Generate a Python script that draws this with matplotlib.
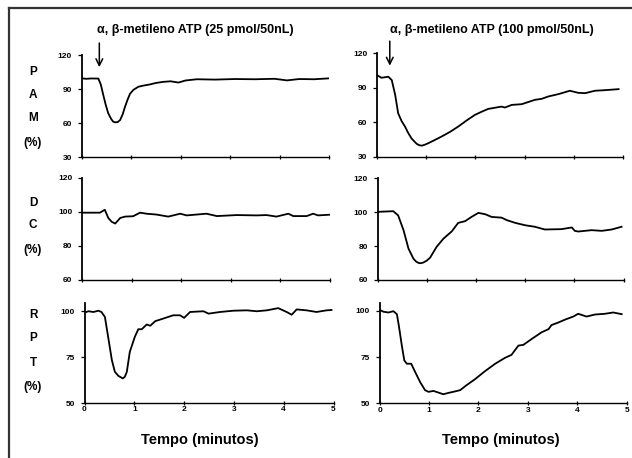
import matplotlib.pyplot as plt
from matplotlib.lines import Line2D

plt.rcParams['font.family'] = ['Liberation Sans', 'DejaVu Sans']
plt.rcParams['font.weight'] = 'bold'

# PAM (%) - 25 pmol
t_pam25 = [0, 0.1, 0.2, 0.34, 0.39, 0.44, 0.49, 0.54, 0.60, 0.64, 0.68, 0.73, 0.78,
           0.83, 0.88, 0.93, 0.98, 1.05, 1.15, 1.25, 1.38, 1.5, 1.65, 1.8, 1.96, 2.1,
           2.33, 2.7, 3.1, 3.5, 3.9, 4.15, 4.4, 4.7, 5.0]
pam25 = [99.4, 99.0, 99.3, 99.2, 94.0, 84.7, 76.0, 68.6, 63.5, 61.2, 60.6, 60.8, 62.6,
         67.5, 74.4, 80.5, 85.8, 89.3, 92.0, 93.0, 94.0, 95.3, 96.3, 96.8, 95.7, 97.5,
         98.6, 98.3, 98.8, 98.6, 99.0, 97.6, 98.8, 98.6, 99.4]

# PAM (%) - 100 pmol
t_pam100 = [0, 0.09, 0.23, 0.3, 0.37, 0.43, 0.50, 0.57, 0.63, 0.70, 0.76, 0.81, 0.86,
            0.91, 0.97, 1.04, 1.15, 1.31, 1.48, 1.65, 1.82, 1.99, 2.13, 2.26, 2.53,
            2.60, 2.74, 2.94, 3.21, 3.35, 3.48, 3.69, 3.92, 4.09, 4.23, 4.43, 4.63,
            4.91]
pam100 = [101.0, 98.7, 99.6, 96.7, 83.7, 67.8, 61.0, 56.2, 51.0, 46.0, 43.2, 41.1, 40.0,
          39.6, 40.4, 41.7, 44.0, 47.5, 51.5, 56.2, 61.5, 66.4, 69.2, 71.6, 73.6,
          72.8, 75.1, 75.7, 79.5, 80.4, 82.4, 84.5, 87.4, 85.6, 85.3, 87.4, 87.9,
          88.8]

# DC (%) - 25 pmol
t_dc25 = [0, 0.36, 0.46, 0.53, 0.60, 0.67, 0.77, 0.87, 1.03, 1.17, 1.30, 1.5, 1.74,
          1.98, 2.11, 2.51, 2.72, 3.12, 3.52, 3.72, 3.92, 4.16, 4.26, 4.53, 4.66, 4.76,
          4.99]
dc25 = [99.6, 99.6, 101.3, 96.5, 94.2, 93.2, 96.5, 97.3, 97.5, 99.6, 99.0, 98.5, 97.3,
        99.0, 98.0, 99.0, 97.6, 98.2, 98.0, 98.2, 97.3, 99.0, 97.6, 97.6, 99.0, 98.0,
        98.4]

# DC (%) - 100 pmol
t_dc100 = [0, 0.32, 0.42, 0.53, 0.63, 0.73, 0.78, 0.83, 0.88, 0.93, 1.0, 1.07, 1.20,
           1.34, 1.51, 1.64, 1.78, 1.91, 2.05, 2.19, 2.32, 2.52, 2.63, 2.80, 3.0,
           3.20, 3.40, 3.74, 3.95, 4.01, 4.08, 4.35, 4.56, 4.76, 4.96]
dc100 = [100.2, 100.6, 98.1, 89.3, 78.5, 72.6, 71.0, 70.1, 69.9, 70.3, 71.4, 73.2, 79.5,
         84.4, 88.7, 93.7, 94.7, 97.2, 99.6, 98.8, 97.2, 96.8, 95.3, 93.7, 92.3,
         91.4, 89.8, 90.0, 91.0, 89.0, 88.6, 89.4, 89.0, 89.8, 91.4]

# RPT (%) - 25 pmol
t_rpt25 = [0, 0.08, 0.18, 0.28, 0.34, 0.41, 0.48, 0.55, 0.61, 0.68, 0.73, 0.77, 0.81,
           0.85, 0.91, 1.01, 1.08, 1.15, 1.25, 1.32, 1.42, 1.58, 1.78, 1.92, 2.0,
           2.12, 2.39, 2.49, 2.72, 2.99, 3.26, 3.46, 3.66, 3.89, 4.06, 4.16, 4.26,
           4.46, 4.66, 4.86, 4.96]
rpt25 = [99.3, 100.0, 99.6, 100.3, 99.6, 96.9, 85.1, 73.3, 67.0, 64.8, 64.0, 63.4, 64.3,
         67.0, 77.9, 86.0, 90.2, 90.2, 92.8, 92.1, 94.6, 96.0, 97.8, 97.8, 96.4,
         99.6, 100.0, 98.7, 99.6, 100.3, 100.5, 100.0, 100.5, 101.7, 99.6, 98.1, 101.0,
         100.5, 99.6, 100.5, 100.7]

# RPT (%) - 100 pmol
t_rpt100 = [0, 0.08, 0.18, 0.28, 0.35, 0.39, 0.45, 0.50, 0.55, 0.64, 0.72, 0.82, 0.92,
            0.99, 1.09, 1.19, 1.29, 1.39, 1.49, 1.63, 1.76, 1.93, 2.13, 2.34, 2.54,
            2.67, 2.81, 2.91, 3.08, 3.28, 3.42, 3.48, 3.62, 3.75, 3.92, 4.02, 4.19,
            4.36, 4.56, 4.73, 4.90]
rpt100 = [100.5, 99.5, 99.1, 99.8, 98.2, 91.9, 81.2, 73.2, 71.4, 71.4, 66.9, 61.5, 57.1,
          56.2, 56.7, 55.8, 54.9, 55.6, 56.2, 57.1, 59.8, 63.0, 67.3, 71.4, 74.6,
          76.2, 81.2, 81.6, 84.8, 88.4, 90.1, 92.3, 93.7, 95.2, 96.9, 98.4, 96.9,
          98.0, 98.4, 99.1, 98.2]

titles = ['α, β-metileno ATP (25 pmol/50nL)', 'α, β-metileno ATP (100 pmol/50nL)']
row_labels = [['P', 'A', 'M', '(%)'], ['D', 'C', '(%)'], ['R', 'P', 'T', '(%)']]
x_ticks = [0, 1, 2, 3, 4, 5]
y_ticks = [[30, 60, 90, 120], [60, 80, 100, 120], [50, 75, 100]]
y_lims = [(30, 120), (60, 120), (50, 104.5)]
dose_time = [0.36, 0.26]

W, H = 632, 458
fig = plt.figure(figsize=(W / 100, H / 100), dpi=100)


def rect(x0, x1, y0, y1):
    return [x0 / W, 1 - y1 / H, (x1 - x0) / W, (y1 - y0) / H]


# panel boxes in pixels (left, right, top, bottom)
boxes = [[(81.5, 329, 55, 157), (377, 623, 53.3, 156.7)],
         [(82, 330, 178, 280), (377.5, 623.5, 178.3, 280)],
         [(84.5, 333.5, 303, 403), (379.6, 626.6, 302.5, 403.3)]]

data = [[(t_pam25, pam25), (t_pam100, pam100)],
        [(t_dc25, dc25), (t_dc100, dc100)],
        [(t_rpt25, rpt25), (t_rpt100, rpt100)]]

for r in range(3):
    for c in range(2):
        ax = fig.add_axes(rect(*boxes[r][c]))
        t, v = data[r][c]
        ax.plot(t, v, color='black', lw=1.3, solid_joinstyle='round')
        ax.set_xlim(0, 5)
        ax.set_ylim(*y_lims[r])
        ax.set_xticks(x_ticks)
        ax.set_yticks(y_ticks[r])
        ax.spines['top'].set_visible(False)
        ax.spines['right'].set_visible(False)
        ax.spines['left'].set_linewidth(1.3)
        ax.spines['bottom'].set_linewidth(1.0)
        ax.tick_params(axis='y', direction='out', length=3, width=0.9, pad=4,
                       labelsize=6)
        ax.tick_params(axis='x', direction='inout', length=3, width=0.9, pad=1,
                       labelsize=6)
        if r < 2:
            ax.set_xticklabels([])
        for lab in ax.get_xticklabels() + ax.get_yticklabels():
            lab.set_fontweight('bold')
        if r == 0:
            ax.annotate('', xy=(dose_time[c], 106.8), xytext=(dose_time[c], 133),
                        xycoords='data', textcoords='data', annotation_clip=False,
                        arrowprops=dict(arrowstyle='->', color='black', lw=1.1,
                                        mutation_scale=12))

# titles and x labels
fig.text(195 / W, 1 - 30 / H, titles[0], ha='center', va='center', fontsize=9,
         fontweight='bold')
fig.text(492 / W, 1 - 30 / H, titles[1], ha='center', va='center', fontsize=9,
         fontweight='bold')
fig.text(200 / W, 1 - 440 / H, 'Tempo (minutos)', ha='center', va='center',
         fontsize=10.5, fontweight='bold')
fig.text(501 / W, 1 - 440 / H, 'Tempo (minutos)', ha='center', va='center',
         fontsize=10.5, fontweight='bold')

# stacked row labels
label_y = [[72, 95, 118, 143], [203, 225, 250], [315, 338, 363, 387]]
for labs, ys in zip(row_labels, label_y):
    for s, y in zip(labs, ys):
        fig.text(33 / W, 1 - y / H, s, ha='center', va='center', fontsize=8.5,
                 fontweight='bold')

# frame
fig.add_artist(Line2D([9 / W, 9 / W], [0, 1 - 8 / H], transform=fig.transFigure,
                      color='#333333', lw=1.6))
fig.add_artist(Line2D([9 / W, 1], [1 - 8 / H, 1 - 8 / H], transform=fig.transFigure,
                      color='#333333', lw=1.6))

fig.savefig('out.png', dpi=100)
